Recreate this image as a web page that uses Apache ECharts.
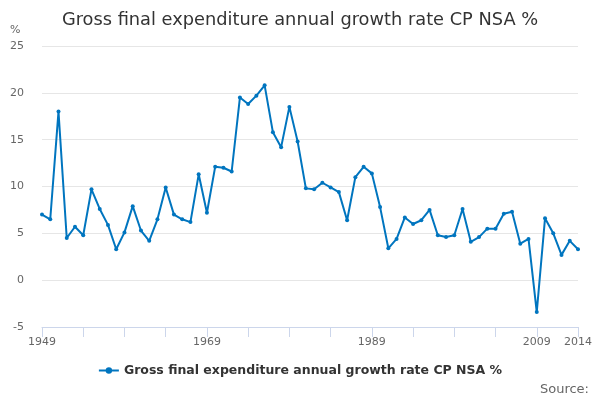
<!DOCTYPE html>
<html>
<head>
<meta charset="utf-8">
<script src="https://cdn.jsdelivr.net/npm/echarts@6/dist/echarts.min.js"></script>
<style>
    html, body { margin: 0; padding: 0; background: #fff; }
    #chart { width: 600px; height: 400px; }
</style>
</head>
<body>
<div id="chart"></div>
<script>
var seriesName = 'Gross final expenditure annual growth rate CP NSA %';

var years = [];
for (var y = 1949; y <= 2014; y++) {
    years.push(String(y));
}

// 1949 - 2014
var growth = [
    7.0, 6.5, 18.0, 4.5, 5.7, 4.8, 9.7, 7.6, 5.9, 3.3,
    5.1, 7.9, 5.3, 4.2, 6.5, 9.9, 7.0, 6.5, 6.2, 11.3,
    7.2, 12.1, 12.0, 11.6, 19.5, 18.8, 19.7, 20.8, 15.8, 14.2,
    18.5, 14.8, 9.8, 9.7, 10.4, 9.9, 9.4, 6.4, 11.0, 12.1,
    11.4, 7.8, 3.4, 4.4, 6.7, 6.0, 6.4, 7.5, 4.8, 4.6,
    4.8, 7.6, 4.1, 4.6, 5.5, 5.5, 7.1, 7.3, 3.9, 4.4,
    -3.4, 6.6, 5.0, 2.7, 4.2, 3.3
];

var yTicks = [-5, 0, 5, 10, 15, 20, 25];

var mychar = echarts.init(document.getElementById('chart'));

var option = {
    animation: false,
    title: {
        text: 'Gross final expenditure annual growth rate CP NSA %',
        left: 'center',
        top: 6,
        textStyle: {
            fontFamily: 'DejaVu Sans',
            fontSize: 17.8,
            fontWeight: 'normal',
            color: '#333'
        }
    },
    legend: {
        bottom: 18,
        left: 'center',
        itemWidth: 20,
        itemHeight: 8,
        itemGap: 5,
        textStyle: {
            fontFamily: 'DejaVu Sans',
            fontSize: 12.5,
            fontWeight: 'bold',
            color: '#333'
        },
        data: [seriesName]
    },
    graphic: [
        {
            type: 'text',
            left: 10,
            top: 25,
            style: { text: '%', fontFamily: 'DejaVu Sans', fontSize: 11, fill: '#666' }
        },
        {
            type: 'text',
            right: 11,
            bottom: 4,
            style: { text: 'Source:', fontFamily: 'DejaVu Sans', fontSize: 13, fill: '#666' }
        }
    ],
    grid: {
        left: 42,
        right: 22,
        top: 46,
        bottom: 73
    },
    xAxis: {
        type: 'category',
        data: years,
        boundaryGap: false,
        axisLine: { onZero: false, lineStyle: { color: '#ccd6eb', width: 1 } },
        axisTick: {
            length: 10,
            lineStyle: { color: '#ccd6eb' },
            interval: function (index) {
                return index % 5 === 0;
            }
        },
        axisLabel: {
            fontFamily: 'DejaVu Sans',
            fontSize: 11,
            color: '#666',
            margin: 10,
            interval: function (index) {
                return index % 20 === 0 || index === years.length - 1;
            }
        },
        splitLine: { show: false }
    },
    yAxis: {
        type: 'value',
        min: yTicks[0],
        max: yTicks[yTicks.length - 1],
        interval: 5,
        axisLine: { show: false },
        axisTick: { show: false },
        axisLabel: {
            fontFamily: 'DejaVu Sans',
            fontSize: 11,
            color: '#666',
            margin: 18
        },
        splitLine: { lineStyle: { color: '#e6e6e6', width: 1 } }
    },
    series: [
        {
            name: seriesName,
            type: 'line',
            data: growth,
            symbol: 'circle',
            symbolSize: 4,
            itemStyle: { color: '#0075bf' },
            lineStyle: { color: '#0075bf', width: 2 }
        }
    ]
};

mychar.setOption(option);
</script>
</body>
</html>
